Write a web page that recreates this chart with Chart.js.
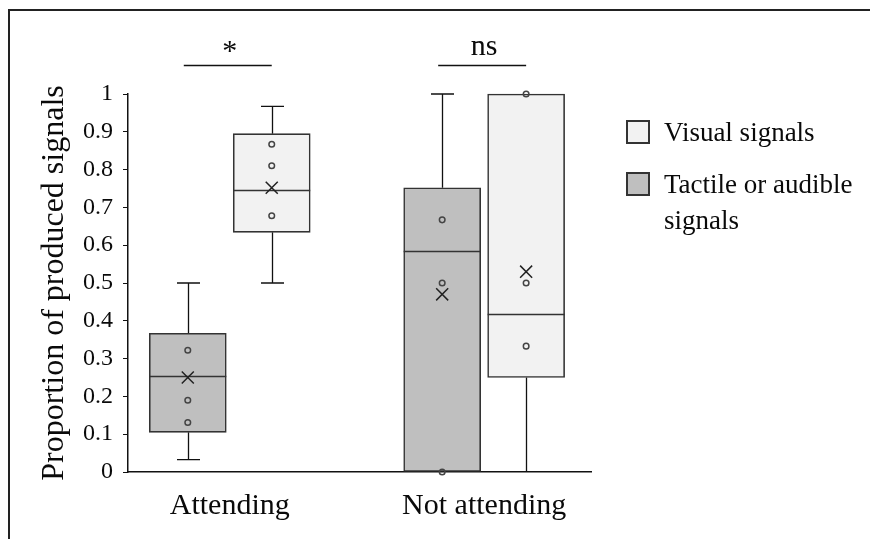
<!DOCTYPE html>
<html>
<head>
<meta charset="utf-8">
<title>Proportion of produced signals</title>
<script src="https://cdn.jsdelivr.net/npm/chart.js@4.4.1/dist/chart.umd.min.js"></script>
<style>
    html, body { margin: 0; padding: 0; background: #fff; }
    #wrap {
        position: relative;
        width: 870px;
        height: 539px;
        overflow: hidden;
        font-family: 'Liberation Serif', 'Times New Roman', serif;
    }
    #frame {
        position: absolute;
        left: 8px;
        top: 9px;
        width: 900px;
        height: 600px;
        border-left: 2px solid #222;
        border-top: 2px solid #222;
        pointer-events: none;
    }
    #legend {
        position: absolute;
        left: 626px;
        top: 0;
        font-size: 27px;
        line-height: 36px;
        color: #0a0a0a;
    }
    .legend-item {
        position: absolute;
        left: 0;
        display: flex;
        align-items: flex-start;
    }
    .legend-swatch {
        flex: none;
        width: 20px;
        height: 20px;
        margin-top: 6px;
        margin-right: 14px;
        border: 2px solid #333;
    }
    .legend-text { width: 204px; }
</style>
</head>
<body>
<div id="wrap">
    <canvas id="boxChart" width="870" height="539"></canvas>
    <div id="frame"></div>
    <div id="legend"></div>
</div>
<script>
// ---------- Data ----------
const categories = ['Attending', 'Not attending'];
const significance = ['*', 'ns'];
const yTicks = [0, 0.1, 0.2, 0.3, 0.4, 0.5, 0.6, 0.7, 0.8, 0.9, 1];

// Tactile or audible signals (left box of each pair)
const tactileMin = [0.033, 0];
const tactileQ1 = [0.105, 0];
const tactileMedian = [0.254, 0.585];
const tactileQ3 = [0.367, 0.752];
const tactileMax = [0.5, 1];
const tactileMean = [0.25, 0.47];
const tactilePoints = [[0.322, 0.19, 0.131], [0.667, 0.5, 0]];

// Visual signals (right box of each pair)
const visualMin = [0.5, 0];
const visualQ1 = [0.634, 0.25];
const visualMedian = [0.746, 0.418];
const visualQ3 = [0.895, 1];
const visualMax = [0.967, 1];
const visualMean = [0.752, 0.53];
const visualPoints = [[0.867, 0.81, 0.678], [1, 0.5, 0.333]];

// ---------- Styling ----------
const FONT = "'Liberation Serif', 'Times New Roman', serif";
const tactileFill = '#bfbfbf';
const visualFill = '#f2f2f2';
const edgeColor = '#333';
const BOX_WIDTH = 77;
const CAP_HALF = 11.5;
const PAIR_OFFSET = 0.165;

// x position of a box: category i, side 0 = tactile (left), 1 = visual (right)
function xPos(i, side) {
    return i + 1 + (side === 0 ? -PAIR_OFFSET : PAIR_OFFSET);
}

function boxData(q1, q3, side) {
    return q1.map((lo, i) => ({ x: xPos(i, side), y: [lo, q3[i]] }));
}

function pointData(values, side) {
    return values.flatMap((vals, i) => vals.map(v => ({ x: xPos(i, side), y: v })));
}

function meanData(means, side) {
    return means.map((v, i) => ({ x: xPos(i, side), y: v }));
}

const groups = [
    { side: 0, min: tactileMin, q1: tactileQ1, med: tactileMedian, q3: tactileQ3, max: tactileMax },
    { side: 1, min: visualMin, q1: visualQ1, med: visualMedian, q3: visualQ3, max: visualMax }
];

// ---------- Whiskers, medians and significance bars ----------
const boxExtras = {
    id: 'boxExtras',
    beforeDatasetsDraw(chart) {
        const { ctx, scales: { x, y } } = chart;
        ctx.save();
        ctx.strokeStyle = '#111';
        ctx.lineWidth = 1.3;
        groups.forEach(g => {
            g.min.forEach((lo, i) => {
                const px = Math.round(x.getPixelForValue(xPos(i, g.side))) + 0.5;
                const segs = [[g.q3[i], g.max[i]], [g.q1[i], lo]];
                segs.forEach(([from, to]) => {
                    if (from === to) return;
                    const y1 = y.getPixelForValue(from);
                    const y2 = y.getPixelForValue(to);
                    ctx.beginPath();
                    ctx.moveTo(px, y1);
                    ctx.lineTo(px, y2);
                    // no cap where the whisker ends on the axis
                    if (to !== 0) {
                        ctx.moveTo(px - CAP_HALF, y2);
                        ctx.lineTo(px + CAP_HALF, y2);
                    }
                    ctx.stroke();
                });
            });
        });
        ctx.restore();
    },
    afterDatasetDraw(chart, args) {
        // bars are drawn index 1 then index 0; medians go on top of both, under the points
        if (args.index !== 0) return;
        const { ctx, scales: { y } } = chart;
        ctx.save();
        ctx.strokeStyle = edgeColor;
        ctx.lineWidth = 1.6;
        groups.forEach((g, d) => {
            const bars = chart.getDatasetMeta(d).data;
            g.med.forEach((m, i) => {
                const bar = bars[i];
                const py = Math.round(y.getPixelForValue(m)) + 0.5;
                ctx.beginPath();
                ctx.moveTo(bar.x - bar.width / 2, py);
                ctx.lineTo(bar.x + bar.width / 2, py);
                ctx.stroke();
            });
        });
        ctx.restore();
    },
    afterDraw(chart) {
        const { ctx, chartArea, scales: { x } } = chart;
        const lineY = chartArea.top - 28.5;
        ctx.save();
        ctx.strokeStyle = '#111';
        ctx.fillStyle = '#0a0a0a';
        ctx.lineWidth = 1.3;
        ctx.font = '30px ' + FONT;
        ctx.textAlign = 'center';
        ctx.textBaseline = 'alphabetic';
        significance.forEach((s, i) => {
            const x1 = x.getPixelForValue(xPos(i, 0));
            const x2 = x.getPixelForValue(xPos(i, 1));
            ctx.beginPath();
            ctx.moveTo(x1 - 4, lineY);
            ctx.lineTo(x2, lineY);
            ctx.stroke();
            ctx.fillText(s, (x1 + x2) / 2, s === '*' ? lineY - 6 : lineY - 11);
        });
        ctx.restore();
    }
};

// ---------- Chart ----------
const ctx = document.getElementById('boxChart').getContext('2d');

const pointStyleOpts = {
    type: 'scatter',
    pointStyle: 'circle',
    pointRadius: 2.8,
    pointBackgroundColor: 'rgba(0,0,0,0)',
    pointBorderColor: '#444',
    pointBorderWidth: 1.5,
    clip: false,
    order: 1
};

const meanStyleOpts = {
    type: 'scatter',
    pointStyle: 'crossRot',
    pointRadius: 8.5,
    pointBorderColor: '#222',
    pointBorderWidth: 1.5,
    clip: false,
    order: 1
};

new Chart(ctx, {
    type: 'bar',
    data: {
        datasets: [
            {
                label: 'Tactile or audible signals',
                data: boxData(tactileQ1, tactileQ3, 0),
                backgroundColor: tactileFill,
                borderColor: edgeColor,
                borderWidth: 1.6,
                borderSkipped: false,
                barThickness: BOX_WIDTH,
                grouped: false,
                clip: false,
                order: 2
            },
            {
                label: 'Visual signals',
                data: boxData(visualQ1, visualQ3, 1),
                backgroundColor: visualFill,
                borderColor: edgeColor,
                borderWidth: 1.6,
                borderSkipped: false,
                barThickness: BOX_WIDTH,
                grouped: false,
                clip: false,
                order: 2
            },
            { ...pointStyleOpts, label: 'tactile points', data: pointData(tactilePoints, 0) },
            { ...pointStyleOpts, label: 'visual points', data: pointData(visualPoints, 1) },
            { ...meanStyleOpts, label: 'tactile mean', data: meanData(tactileMean, 0) },
            { ...meanStyleOpts, label: 'visual mean', data: meanData(visualMean, 1) }
        ]
    },
    options: {
        responsive: false,
        animation: false,
        devicePixelRatio: 1,
        layout: { padding: { top: 94, right: 279, bottom: 0, left: 20 } },
        plugins: {
            legend: { display: false },
            tooltip: { enabled: false }
        },
        scales: {
            x: {
                type: 'linear',
                min: 0.6,
                max: 2.42,
                offset: false,
                grid: { display: false },
                border: { display: true, color: '#111', width: 1.5 },
                afterBuildTicks: scale => {
                    scale.ticks = categories.map((c, i) => ({ value: i + 1 }));
                },
                afterFit: scale => { scale.height = 67; },
                ticks: {
                    color: '#0a0a0a',
                    padding: 8,
                    maxRotation: 0,
                    autoSkip: false,
                    font: { family: FONT, size: 30 },
                    callback: (value, index) => categories[index]
                }
            },
            y: {
                type: 'linear',
                min: 0,
                max: 1,
                grid: {
                    drawOnChartArea: false,
                    drawTicks: true,
                    tickLength: 5,
                    color: '#111'
                },
                border: { display: true, color: '#111', width: 1.5 },
                afterBuildTicks: scale => {
                    scale.ticks = yTicks.map(v => ({ value: v }));
                },
                afterFit: scale => { scale.width = 108; },
                ticks: {
                    color: '#0a0a0a',
                    padding: 10,
                    font: { family: FONT, size: 24 },
                    callback: value => String(value)
                },
                title: {
                    display: true,
                    text: 'Proportion of produced signals',
                    color: '#0a0a0a',
                    padding: { top: 15, bottom: 0 },
                    font: { family: FONT, size: 32 }
                }
            }
        }
    },
    plugins: [boxExtras]
});

// ---------- Legend (HTML) ----------
const legendItems = [
    { text: 'Visual signals', fill: visualFill, top: 114 },
    { text: 'Tactile or audible signals', fill: tactileFill, top: 166 }
];
const legend = document.getElementById('legend');
legendItems.forEach(item => {
    const row = document.createElement('div');
    row.className = 'legend-item';
    row.style.top = item.top + 'px';
    row.innerHTML = `<span class="legend-swatch" style="background:${item.fill}"></span><span class="legend-text">${item.text}</span>`;
    legend.appendChild(row);
});
</script>
</body>
</html>
